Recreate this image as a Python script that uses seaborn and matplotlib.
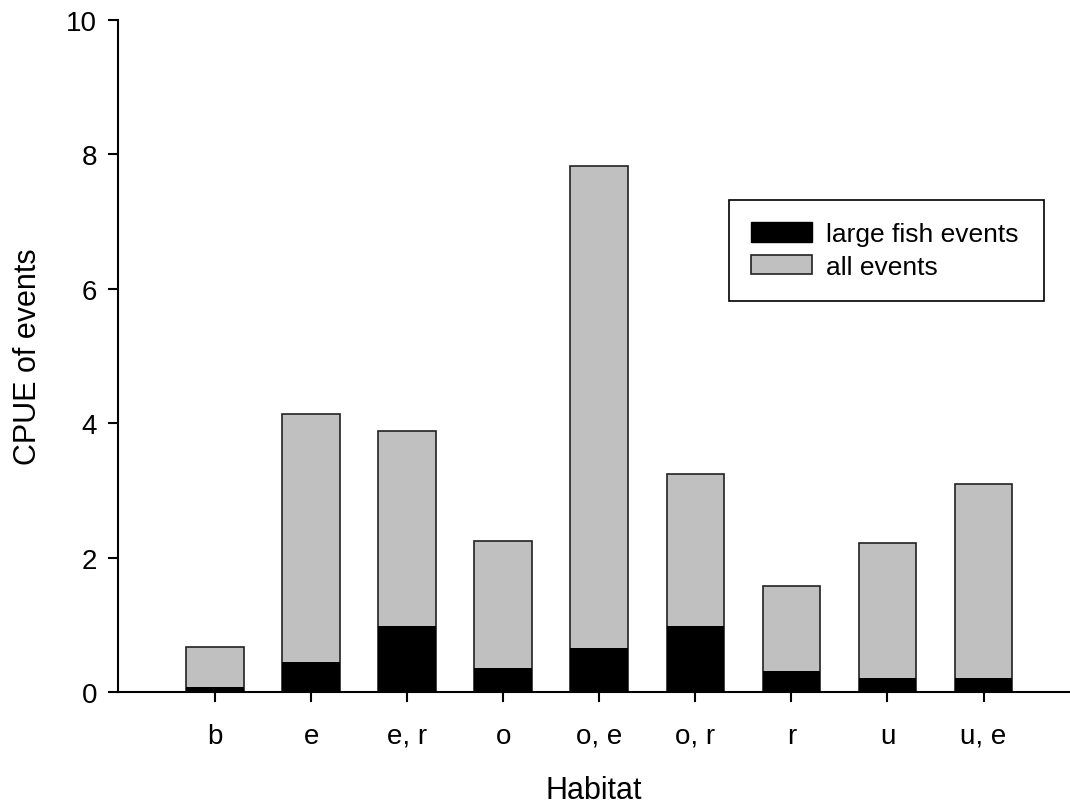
import matplotlib
matplotlib.use("Agg")
import matplotlib.pyplot as plt
import seaborn as sns
import pandas as pd
from matplotlib.patches import Patch

habitats = ["b", "e", "e, r", "o", "o, e", "o, r", "r", "u", "u, e"]
all_events = [0.67, 4.13, 3.88, 2.24, 7.83, 3.25, 1.58, 2.22, 3.10]
large_fish_events = [0.07, 0.45, 0.98, 0.36, 0.65, 0.98, 0.31, 0.21, 0.21]

sns.set_theme(style="ticks")
plt.rcParams["font.family"] = ["Liberation Sans", "DejaVu Sans"]
plt.rcParams.update({"text.color": "black", "axes.labelcolor": "black",
                     "xtick.color": "black", "ytick.color": "black",
                     "axes.edgecolor": "black"})

df = pd.DataFrame({"Habitat": habitats, "all": all_events, "large": large_fish_events})

fig = plt.figure(figsize=(10.7, 8.04), dpi=100)
ax = fig.add_axes([118 / 1070, 1 - 693 / 804, 1 - 118 / 1070, (693 - 21) / 804])

sns.barplot(data=df, x="Habitat", y="all", order=habitats, color="#c0c0c0",
            width=0.6, edgecolor="#222222", linewidth=1.2, saturation=1, ax=ax)
sns.barplot(data=df, x="Habitat", y="large", order=habitats, color="black",
            width=0.6, edgecolor="black", linewidth=0, saturation=1, ax=ax)

ax.set_xlim(-1.01, 8.9)
ax.set_ylim(0, 10)
ax.set_yticks([0, 2, 4, 6, 8, 10])
ax.set_xlabel("Habitat", fontsize=22, labelpad=19, color="black")
ax.set_ylabel("CPUE of events", fontsize=22, labelpad=17, color="black")
ax.tick_params(axis="both", labelsize=20, length=7, width=1.5, colors="black", direction="out")
ax.tick_params(axis="x", pad=15)
ax.tick_params(axis="y", pad=8)
for s in ["top", "right"]:
    ax.spines[s].set_visible(False)
for s in ["left", "bottom"]:
    ax.spines[s].set_linewidth(1.5)
    ax.spines[s].set_color("black")

handles = [Patch(facecolor="black", edgecolor="black", label="large fish events"),
           Patch(facecolor="#c0c0c0", edgecolor="#222222", linewidth=1.2, label="all events")]
x0 = (729 - 118) / 952
x1 = (1044 - 118) / 952
y_top = (693 - 201) / 672
y_bot = (693 - 302) / 672
leg = ax.legend(handles=handles, loc="upper left",
                bbox_to_anchor=(x0, y_bot, x1 - x0, y_top - y_bot), mode="expand",
                fontsize=19, frameon=True, fancybox=False, edgecolor="black",
                handlelength=2.3, handleheight=0.75, labelspacing=0.33,
                borderpad=0.84, handletextpad=0.55, borderaxespad=0,
                labelcolor="black")
leg.get_frame().set_linewidth(1.2)
leg.get_frame().set_alpha(1)

fig.savefig("out.png", dpi=100)
